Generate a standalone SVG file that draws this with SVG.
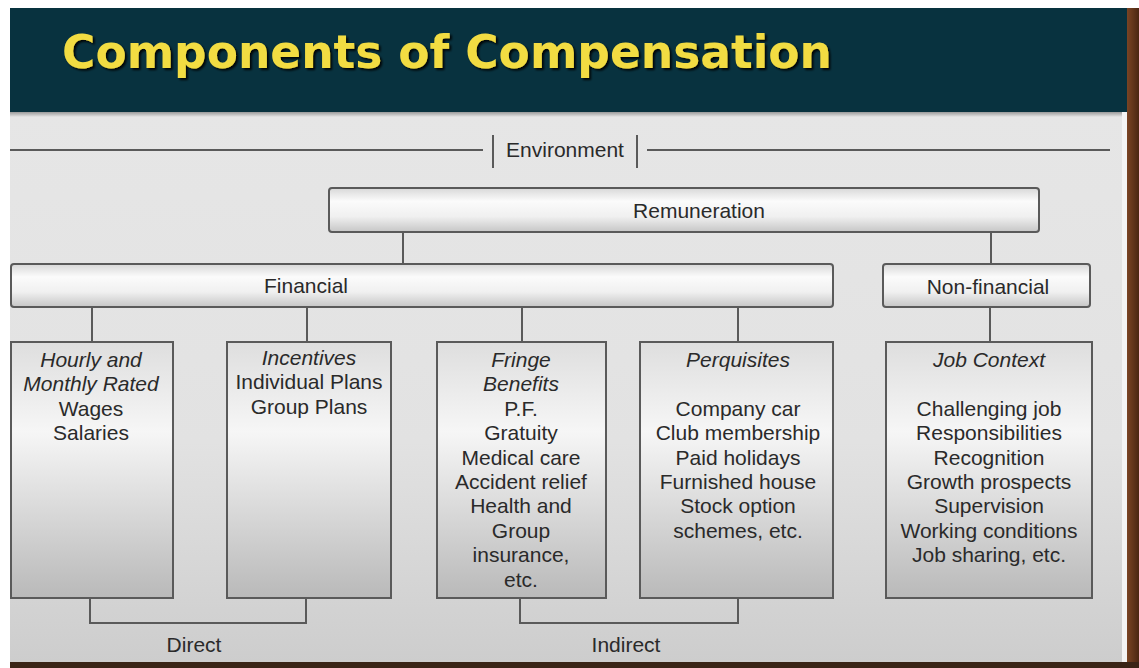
<svg xmlns="http://www.w3.org/2000/svg" width="1139" height="668" viewBox="0 0 1139 668">
  <defs>
    <linearGradient id="bg" x1="0" y1="0" x2="0" y2="1">
      <stop offset="0" stop-color="#e6e6e6"/>
      <stop offset="0.6" stop-color="#e2e2e2"/>
      <stop offset="1" stop-color="#cdcdcd"/>
    </linearGradient>
    <linearGradient id="bar" x1="0" y1="0" x2="0" y2="1">
      <stop offset="0" stop-color="#d8d8d8"/>
      <stop offset="0.3" stop-color="#fbfbfb"/>
      <stop offset="0.65" stop-color="#f0f0f0"/>
      <stop offset="1" stop-color="#c6c6c6"/>
    </linearGradient>
    <linearGradient id="col" x1="0" y1="0" x2="0" y2="1">
      <stop offset="0" stop-color="#dedede"/>
      <stop offset="0.35" stop-color="#f6f6f6"/>
      <stop offset="1" stop-color="#b9b9b9"/>
    </linearGradient>
    <linearGradient id="shade" x1="0" y1="0" x2="0" y2="1">
      <stop offset="0" stop-color="#9a9a9a"/>
      <stop offset="1" stop-color="#e6e6e6"/>
    </linearGradient>
    <linearGradient id="brown" x1="0" y1="0" x2="1" y2="0">
      <stop offset="0" stop-color="#7a4424"/>
      <stop offset="1" stop-color="#4a2612"/>
    </linearGradient>
    <filter id="tshadow" x="-5%" y="-20%" width="110%" height="150%">
      <feDropShadow dx="2" dy="2" stdDeviation="1.2" flood-color="#000000" flood-opacity="0.9"/>
    </filter>
    <style>
      .t { font-family: "Liberation Sans", Arial, sans-serif; font-size: 21px; fill: #2a2a2a; text-anchor: middle; }
      .i { font-style: italic; }
      .box { stroke: #5a5a5a; stroke-width: 2; }
      .ln { stroke: #5a5a5a; stroke-width: 2; fill: none; }
    </style>
  </defs>

  <!-- page -->
  <rect x="0" y="0" width="1139" height="668" fill="#ffffff"/>
  <rect x="10" y="112" width="1118" height="551" fill="url(#bg)"/>
  <rect x="10" y="112" width="1118" height="5" fill="url(#shade)"/>
  <rect x="1122" y="112" width="6" height="551" fill="#f4f4f4"/>
  <rect x="1127" y="8" width="12" height="660" fill="url(#brown)"/>
  <rect x="10" y="662" width="1129" height="6" fill="#3a2416"/>

  <!-- header -->
  <rect x="10" y="8" width="1117" height="104" fill="#08323f"/>
  <text x="62" y="68" font-family="'DejaVu Sans', Verdana, sans-serif" font-weight="bold" font-size="46" fill="#f2dc42" textLength="770" lengthAdjust="spacingAndGlyphs" filter="url(#tshadow)">Components of Compensation</text>

  <!-- connectors -->
  <g id="connectors">
    <line class="ln" x1="10" y1="150" x2="483" y2="150"/>
    <line class="ln" x1="493" y1="135" x2="493" y2="168"/>
    <line class="ln" x1="637" y1="135" x2="637" y2="168"/>
    <line class="ln" x1="647" y1="150" x2="1110" y2="150"/>
    <line class="ln" x1="403" y1="233" x2="403" y2="264"/>
    <line class="ln" x1="991" y1="233" x2="991" y2="264"/>
    <line class="ln" x1="92" y1="307" x2="92" y2="342"/>
    <line class="ln" x1="307" y1="307" x2="307" y2="342"/>
    <line class="ln" x1="522" y1="307" x2="522" y2="342"/>
    <line class="ln" x1="738" y1="307" x2="738" y2="342"/>
    <line class="ln" x1="990" y1="307" x2="990" y2="342"/>
    <polyline class="ln" points="90,598 90,623 306,623 306,598"/>
    <polyline class="ln" points="520,598 520,623 738,623 738,598"/>
  </g>

  <g id="environment">
    <text class="t" x="565" y="157">Environment</text>
  </g>

  <g id="remuneration">
    <rect class="box" x="329" y="188" width="710" height="44" rx="3" fill="url(#bar)"/>
    <text class="t" x="699" y="218">Remuneration</text>
  </g>

  <g id="financial">
    <rect class="box" x="11" y="264" width="822" height="43" rx="3" fill="url(#bar)"/>
    <text class="t" x="306" y="293">Financial</text>
  </g>

  <g id="non-financial">
    <rect class="box" x="883" y="264" width="207" height="43" rx="3" fill="url(#bar)"/>
    <text class="t" x="988" y="294">Non-financial</text>
  </g>

  <g id="box-wages">
    <rect class="box" x="11" y="342" width="162" height="256" fill="url(#col)"/>
    <text class="t i" x="91" y="367">Hourly and</text>
    <text class="t i" x="91" y="391.4">Monthly Rated</text>
    <text class="t" x="91" y="415.8">Wages</text>
    <text class="t" x="91" y="440.2">Salaries</text>
  </g>

  <g id="box-incentives">
    <rect class="box" x="227" y="342" width="164" height="256" fill="url(#col)"/>
    <text class="t i" x="309" y="365">Incentives</text>
    <text class="t" x="309" y="389.4">Individual Plans</text>
    <text class="t" x="309" y="413.8">Group Plans</text>
  </g>

  <g id="box-fringe">
    <rect class="box" x="437" y="342" width="169" height="256" fill="url(#col)"/>
    <text class="t i" x="521" y="367">Fringe</text>
    <text class="t i" x="521" y="391.4">Benefits</text>
    <text class="t" x="521" y="415.8">P.F.</text>
    <text class="t" x="521" y="440.2">Gratuity</text>
    <text class="t" x="521" y="464.6">Medical care</text>
    <text class="t" x="521" y="489">Accident relief</text>
    <text class="t" x="521" y="513.4">Health and</text>
    <text class="t" x="521" y="537.8">Group</text>
    <text class="t" x="521" y="562.2">insurance,</text>
    <text class="t" x="521" y="586.6">etc.</text>
  </g>

  <g id="box-perquisites">
    <rect class="box" x="640" y="342" width="193" height="256" fill="url(#col)"/>
    <text class="t i" x="738" y="367">Perquisites</text>
    <text class="t" x="738" y="415.8">Company car</text>
    <text class="t" x="738" y="440.2">Club membership</text>
    <text class="t" x="738" y="464.6">Paid holidays</text>
    <text class="t" x="738" y="489">Furnished house</text>
    <text class="t" x="738" y="513.4">Stock option</text>
    <text class="t" x="738" y="537.8">schemes, etc.</text>
  </g>

  <g id="box-job-context">
    <rect class="box" x="886" y="342" width="206" height="256" fill="url(#col)"/>
    <text class="t i" x="989" y="367">Job Context</text>
    <text class="t" x="989" y="415.8">Challenging job</text>
    <text class="t" x="989" y="440.2">Responsibilities</text>
    <text class="t" x="989" y="464.6">Recognition</text>
    <text class="t" x="989" y="489">Growth prospects</text>
    <text class="t" x="989" y="513.4">Supervision</text>
    <text class="t" x="989" y="537.8">Working conditions</text>
    <text class="t" x="989" y="562.2">Job sharing, etc.</text>
  </g>

  <g id="label-direct">
    <text class="t" x="194" y="652">Direct</text>
  </g>
  <g id="label-indirect">
    <text class="t" x="626" y="652">Indirect</text>
  </g>
</svg>
